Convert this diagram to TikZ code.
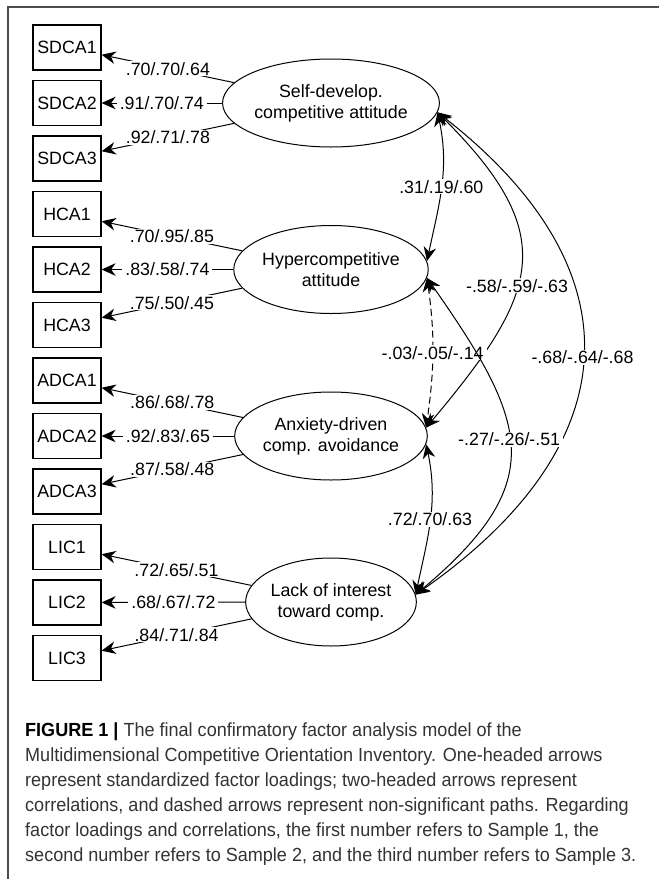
\documentclass[tikz,border=0pt]{standalone}
\usepackage{fontspec}
\setmainfont{Liberation Sans}
\newfontfamily\capfont[FakeStretch=0.95]{Liberation Sans}
\usepackage{tikz}
\usetikzlibrary{shapes.geometric}
\usetikzlibrary{arrows.meta}
\usepackage{xcolor}

\begin{document}
\begin{tikzpicture}[x=1pt,y=1pt,
        font=\fontsize{17.8}{21}\selectfont,
        item/.style={draw, line width=1.2pt, minimum width=68pt, minimum height=45pt, inner sep=0pt},
        factor/.style={draw, ellipse, line width=1pt, minimum width=170pt, minimum height=88pt, inner sep=0pt, align=center},
        coef/.style={fill=white, inner xsep=3pt, inner ysep=1pt},
        load/.style={-{Stealth[length=14pt,width=12.5pt,inset=4.5pt]}, line width=1pt},
        cor/.style={{Stealth[length=14pt,width=12.5pt,inset=4.5pt]}-{Stealth[length=14pt,width=12.5pt,inset=4.5pt]}, line width=1pt},
        nonsig/.style={dash pattern=on 7pt off 4pt}]
    \useasboundingbox (0,0) rectangle (659,-879);
    \draw[black!70, line width=1.5pt] (8,-890) -- (8,-7) -- (670,-7);

    % observed items
    \foreach \name [count=\i from 0] in {SDCA1,SDCA2,SDCA3,HCA1,HCA2,HCA3,ADCA1,ADCA2,ADCA3,LIC1,LIC2,LIC3}
        \node[item] (\name) at (67,{-47.5-55.5*\i}) {\name};

    % latent factors
    \node[factor] (sdca) at (331,-103) {Self-develop.\\competitive attitude};
    \node[factor] (hca) at (331,-269.5) {Hypercompetitive\\attitude};
    \node[factor] (adca) at (331,-436) {Anxiety-driven\\comp. avoidance};
    \node[factor] (lic) at (331,-602) {Lack of interest\\toward comp.};

    % loadings
    \draw[load] (sdca) -- node[coef]{.70/.70/.64} (SDCA1);
    \draw[load] (sdca) -- node[coef]{.91/.70/.74} (SDCA2);
    \draw[load] (sdca) -- node[coef]{.92/.71/.78} (SDCA3);
    \draw[load] (hca) -- node[coef]{.70/.95/.85} (HCA1);
    \draw[load] (hca) -- node[coef]{.83/.58/.74} (HCA2);
    \draw[load] (hca) -- node[coef]{.75/.50/.45} (HCA3);
    \draw[load] (adca) -- node[coef]{.86/.68/.78} (ADCA1);
    \draw[load] (adca) -- node[coef]{.92/.83/.65} (ADCA2);
    \draw[load] (adca) -- node[coef]{.87/.58/.48} (ADCA3);
    \draw[load] (lic) -- node[coef]{.72/.65/.51} (LIC1);
    \draw[load] (lic) -- node[coef]{.68/.67/.72} (LIC2);
    \draw[load] (lic) -- node[coef]{.84/.71/.84} (LIC3);

    % correlations
    \draw[cor] (sdca.-5) to[out=-78,in=78] node[coef]{.31/.19/.60} (hca.5);
    \draw[cor] (sdca.-5) to[out=-45,in=50,looseness=1.42] node[coef,pos=.57]{-.58/-.59/-.63} (adca.5);
    \draw[cor] (sdca.-5) to[out=-38,in=35,looseness=1.37] node[coef]{-.68/-.64/-.68} (lic.5);
    \draw[cor,nonsig] (hca.-5) to[out=-82,in=82] node[coef]{-.03/-.05/-.14} (adca.5);
    \draw[cor] (hca.-5) to[out=-55,in=40,looseness=1.42] node[coef,pos=.47]{-.27/-.26/-.51} (lic.5);
    \draw[cor] (adca.-5) to[out=-78,in=78] node[coef]{.72/.70/.63} (lic.5);

    % caption
    \node[anchor=north west, inner sep=0pt, align=left, text=black!80,
          font=\capfont\fontsize{19}{25}\selectfont] (caption) at (25,-723)
        {{\color{black}\bfseries FIGURE 1 |} The final confirmatory factor analysis model of the\\
         Multidimensional Competitive Orientation Inventory. One-headed arrows\\
         represent standardized factor loadings; two-headed arrows represent\\
         correlations, and dashed arrows represent non-significant paths. Regarding\\
         factor loadings and correlations, the first number refers to Sample 1, the\\
         second number refers to Sample 2, and the third number refers to Sample 3.};
\end{tikzpicture}
\end{document}
